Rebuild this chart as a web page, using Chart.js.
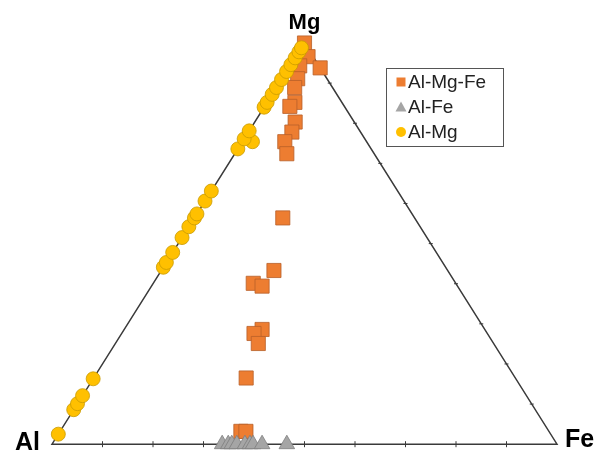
<!DOCTYPE html>
<html>
<head>
<meta charset="utf-8">
<script src="https://cdn.jsdelivr.net/npm/chart.js@4/dist/chart.umd.min.js"></script>
<style>
  html, body { margin: 0; padding: 0; background: #fff; }
  canvas { display: block; }
</style>
</head>
<body>
<canvas id="ternary" width="597" height="455"></canvas>
<script>
// Series names (legend order)
const seriesNames = ['Al-Mg-Fe', 'Al-Fe', 'Al-Mg'];
const cornerLabels = ['Al', 'Fe', 'Mg'];

// Al-Mg-Fe : Mg and Fe content (at.%), Al = rest
const alMgFeMg = [100, 96.6, 93.8, 94.3, 91.1, 88.9, 85.2, 84.2, 80.3, 77.8, 75.4, 72.4, 56.4, 43.3, 40.1, 39.4, 28.6, 27.6, 25.1, 16.5, 3.2, 3.2];
const alMgFeFe = [0, 2.4, 6.2, 1.9, 3.1, 3.6, 5.5, 5.0, 8.0, 8.6, 8.4, 10.3, 17.5, 22.3, 19.8, 21.9, 27.3, 26.2, 28.3, 30.2, 35.8, 36.8];

// Al-Fe : Fe content, no Mg
const alFeFe = [33.7, 34.9, 35.6, 36.6, 38.2, 39.2, 39.8, 41.6, 46.5];
const alFeMg = [0, 0, 0, 0, 0, 0, 0, 0, 0];

// Al-Mg : Mg content, (almost) no Fe
const alMgMg = [2.5, 8.6, 10.1, 12.1, 16.3, 44.1, 45.3, 47.8, 51.5, 54.2, 56.4, 57.4, 60.6, 63.1, 73.6, 75.4, 76.1, 78.1, 84.0, 85.2, 87.2, 88.9, 90.9, 92.9, 94.6, 96.3, 97.8, 98.8];
const alMgFe = [0, 0, 0, 0, 0, 0, 0, 0, 0, 0, 0, 0, 0, 0, 0, 2, 0, 0, 0, 0, 0, 0, 0, 0, 0, 0, 0, 0];

const tickSteps = [10, 20, 30, 40, 50, 60, 70, 80, 90];

// ternary -> cartesian (Al at left, Fe at right, Mg on top)
function toXY(mg, fe) {
  return mg.map((m, i) => ({ x: (fe[i] + m / 2) / 100, y: m / 100 }));
}

const frameColor = '#3a3a3a';

const ternaryFrame = {
  id: 'ternaryFrame',
  beforeDatasetsDraw(chart) {
    const { ctx, scales: { x, y } } = chart;
    const px = v => x.getPixelForValue(v);
    const py = v => y.getPixelForValue(v);
    ctx.save();
    ctx.strokeStyle = frameColor;
    ctx.lineWidth = 1.5;
    ctx.beginPath();
    ctx.moveTo(px(0), py(0));
    ctx.lineTo(px(1), py(0));
    ctx.lineTo(px(0.5), py(1));
    ctx.closePath();
    ctx.stroke();

    ctx.lineWidth = 1;
    tickSteps.forEach(t => {
      const f = t / 100;
      // bottom edge
      ctx.beginPath();
      ctx.moveTo(px(f), py(0) - 3);
      ctx.lineTo(px(f), py(0) + 3);
      ctx.stroke();
      // right edge
      const rx = px(1 - f / 2), ry = py(f);
      ctx.beginPath();
      ctx.moveTo(rx - 2, ry);
      ctx.lineTo(rx + 2, ry);
      ctx.stroke();
    });
    ctx.restore();
  },
  afterDraw(chart) {
    const { ctx, scales: { x, y } } = chart;
    ctx.save();
    ctx.fillStyle = '#000';
    ctx.textBaseline = 'alphabetic';
    ctx.font = 'bold 25px "Liberation Sans", Arial, sans-serif';
    ctx.textAlign = 'right';
    ctx.fillText(cornerLabels[0], x.getPixelForValue(0) - 12, y.getPixelForValue(0) + 6);
    ctx.textAlign = 'left';
    ctx.fillText(cornerLabels[1], x.getPixelForValue(1) + 8, y.getPixelForValue(0) + 3);
    ctx.font = 'bold 22px "Liberation Sans", Arial, sans-serif';
    ctx.textAlign = 'center';
    ctx.fillText(cornerLabels[2], x.getPixelForValue(0.5), y.getPixelForValue(1) - 14);

    // legend box
    const bx = 386, by = 68, bw = 117, bh = 78;
    ctx.strokeStyle = '#555';
    ctx.lineWidth = 1;
    ctx.strokeRect(bx + 0.5, by + 0.5, bw, bh);
    ctx.font = '19px "Liberation Sans", Arial, sans-serif';
    ctx.textAlign = 'left';
    ctx.textBaseline = 'middle';
    chart.data.datasets.forEach((ds, i) => {
      const cy = by + 14 + i * 25;
      const cx = bx + 15;
      ctx.fillStyle = ds.backgroundColor;
      ctx.beginPath();
      if (ds.pointStyle === 'rect') {
        ctx.rect(cx - 4.5, cy - 4.5, 9, 9);
      } else if (ds.pointStyle === 'triangle') {
        ctx.moveTo(cx, cy - 5.5);
        ctx.lineTo(cx + 5.5, cy + 4.5);
        ctx.lineTo(cx - 5.5, cy + 4.5);
        ctx.closePath();
      } else {
        ctx.arc(cx, cy, 5, 0, Math.PI * 2);
      }
      ctx.fill();
      ctx.fillStyle = '#222';
      ctx.fillText(ds.label, cx + 7, cy + 1);
    });
    ctx.restore();
  }
};

new Chart(document.getElementById('ternary'), {
  type: 'scatter',
  data: {
    datasets: [
      {
        label: seriesNames[0],
        data: toXY(alMgFeMg, alMgFeFe),
        pointStyle: 'rect',
        pointRadius: 10,
        backgroundColor: '#ED7D31',
        borderColor: '#B8602A',
        borderWidth: 0.8,
        clip: false,
        order: 2
      },
      {
        label: seriesNames[1],
        data: toXY(alFeMg, alFeFe),
        pointStyle: 'triangle',
        pointRadius: 9,
        backgroundColor: '#A5A5A5',
        borderColor: '#7d7d7d',
        borderWidth: 0.8,
        clip: false,
        order: 1
      },
      {
        label: seriesNames[2],
        data: toXY(alMgMg, alMgFe),
        pointStyle: 'circle',
        pointRadius: 7,
        backgroundColor: '#FFC000',
        borderColor: '#C99A00',
        borderWidth: 0.8,
        clip: false,
        order: 0
      }
    ]
  },
  options: {
    responsive: false,
    animation: false,
    layout: { padding: { left: 52, right: 40, top: 43, bottom: 6 } },
    scales: {
      x: { display: false, min: 0, max: 1 },
      y: { display: false, min: 0, max: 1 }
    },
    plugins: {
      legend: { display: false },
      tooltip: { enabled: false }
    }
  },
  plugins: [ternaryFrame]
});
</script>
</body>
</html>
